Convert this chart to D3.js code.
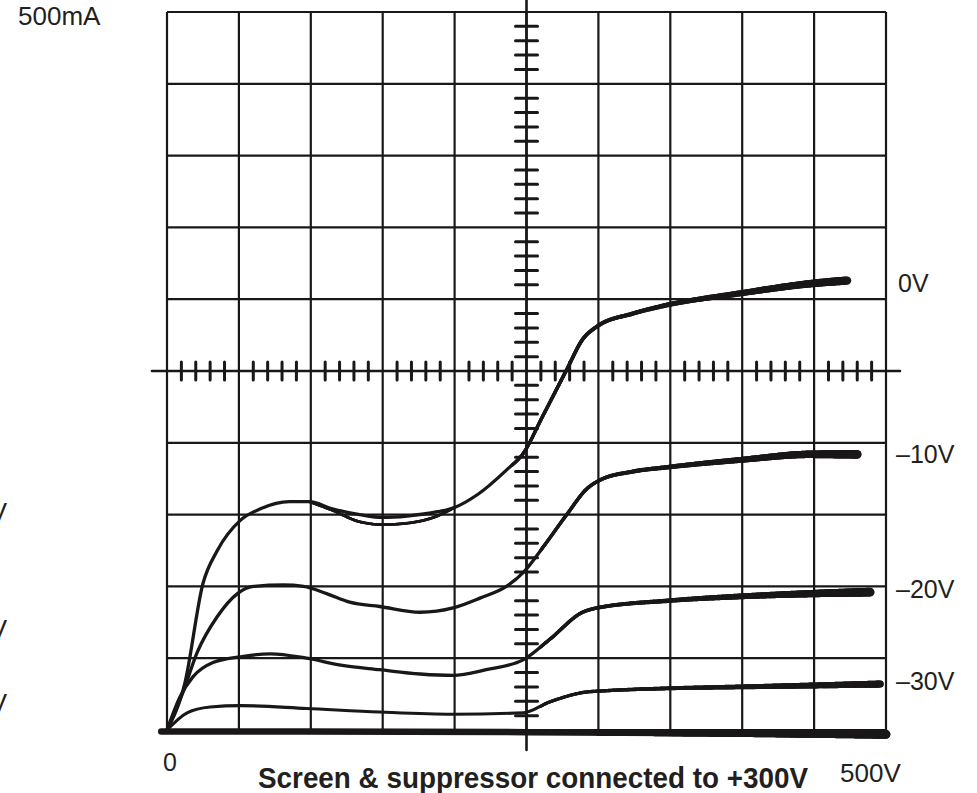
<!DOCTYPE html>
<html>
<head>
<meta charset="utf-8">
<script src="https://cdn.jsdelivr.net/npm/d3@7"></script>
<style>
  html, body { margin: 0; padding: 0; background: #fff; }
  svg { display: block; }
  text { font-family: 'Liberation Sans', Arial, sans-serif; fill: #231f20; }
</style>
</head>
<body>
<svg id="chart" width="977" height="793"></svg>
<script>
// plate current (mA) vs plate voltage (V)
const curve0V = [[0,0],[12.5,33],[25,102],[35,125],[51,146],[65,154],[85,159],[99,159],[115,154],[134,150],[150,148],[167,149],[188,152],[200,155],[216,164],[236,181],[248,193],[261,218],[278,251],[289,272],[299,281],[324,290],[348,296],[398,304],[449,311],[473,313]];
const curve0Vretrace = [[99,159],[115,153],[134,145],[150,143],[167,144],[188,149],[200,155]];
const curveM10 = [[0,0],[11,26],[21,54],[35,79],[49,95],[60,100],[81,101],[95,100],[111,95],[127,89],[148,86],[176,82],[199,85],[218,92],[236,100],[248,110],[262,128],[278,150],[292,168],[301,174],[324,180],[348,183],[398,188],[449,192],[480,192]];
const curveM20 = [[0,0],[9,23],[18,37],[32,47],[51,51],[72,53],[97,50],[122,45],[148,42],[176,39],[199,38],[222,42],[248,49],[266,63],[289,82],[299,85],[348,90],[398,93],[449,95],[489,96]];
const curveM30 = [[0,0],[14,12],[30,16],[51,17],[97,15],[148,12.5],[199,11],[248,12],[266,19.5],[292,26.5],[299,27],[348,29],[398,30],[449,31],[496,32]];
const curveCutoff = [[-4,-1],[250,-1.5],[500,-3]];

const curveLabels = ['0V', '–10V', '–20V', '–30V'];
const labelCurrents = [311, 192, 98, 34];
const leftLabels = ['V', 'V', 'V'];
const leftLabelCurrents = [152, 70, 19];

const svg = d3.select('#chart');
const x = d3.scaleLinear().domain([0, 500]).range([167, 886]);
const y = d3.scaleLinear().domain([0, 500]).range([730, 12]);
const ink = '#1a1718';

// grid
const gridG = svg.append('g').attr('stroke', ink).attr('stroke-width', 2.2);
gridG.selectAll('.vx').data(x.ticks(10)).join('line')
  .attr('x1', d => x(d)).attr('x2', d => x(d))
  .attr('y1', y(0)).attr('y2', y(500));
gridG.selectAll('.hy').data(y.ticks(10)).join('line')
  .attr('y1', d => y(d)).attr('y2', d => y(d))
  .attr('x1', x(0)).attr('x2', x(500));

// centre cross axes with minor ticks
const axisG = svg.append('g').attr('stroke', ink).attr('stroke-linecap', 'round');
axisG.append('line').attr('stroke-width', 2.6)
  .attr('x1', x(250)).attr('x2', x(250)).attr('y1', 0).attr('y2', 750);
axisG.append('line').attr('stroke-width', 2.6)
  .attr('x1', 152).attr('x2', 900).attr('y1', y(250)).attr('y2', y(250));
const minor = d3.range(0, 501, 10).filter(v => v % 50 !== 0);
axisG.selectAll('.ty').data(minor).join('line').attr('stroke-width', 3)
  .attr('x1', x(250) - 11).attr('x2', x(250) + 11)
  .attr('y1', d => y(d)).attr('y2', d => y(d));
axisG.selectAll('.tx').data(minor).join('line').attr('stroke-width', 3)
  .attr('x1', d => x(d)).attr('x2', d => x(d))
  .attr('y1', y(250) - 9).attr('y2', y(250) + 9);

// curves: thin on the left, heavier towards the right end like the scope trace
const line = d3.line().x(d => x(d[0])).y(d => y(d[1])).curve(d3.curveMonotoneX);
const curvesG = svg.append('g').attr('fill', 'none').attr('stroke', ink).attr('stroke-linecap', 'round');

function drawTrace(data, base, tail, tailFrom) {
  const tmp = curvesG.append('path').attr('d', line(data)).attr('stroke', 'none');
  const node = tmp.node();
  const len = node.getTotalLength();
  const xEnd = x(data[data.length - 1][0]);
  const pts = d3.range(0, len, 1.5).concat([len]).map(l => node.getPointAtLength(l));
  tmp.remove();
  // base stroke as one path, heavier tail drawn piecewise on top
  curvesG.append('path').attr('d', line(data)).attr('stroke-width', base).attr('stroke-linejoin', 'round');
  for (let i = 1; i < pts.length; i++) {
    const p = pts[i - 1], q = pts[i];
    const t = Math.max(0, (q.x - tailFrom) / (xEnd - tailFrom));
    if (t <= 0) continue;
    curvesG.append('line')
      .attr('x1', p.x).attr('y1', p.y).attr('x2', q.x).attr('y2', q.y)
      .attr('stroke-width', base + tail * Math.pow(t, 1.6));
  }
}

drawTrace(curve0V, 3.3, 5, x(240));
drawTrace(curve0Vretrace, 2.7, 0, x(500));
drawTrace(curveM10, 3.3, 5.5, x(260));
drawTrace(curveM20, 3.3, 5.5, x(260));
drawTrace(curveM30, 3.1, 4, x(260));
drawTrace(curveCutoff, 6.5, 2.5, x(300));

// labels
svg.append('text').attr('x', 18).attr('y', 25).style('font-size', '26px').text('500mA');
svg.selectAll('.rl').data(curveLabels).join('text')
  .attr('x', (d, i) => i === 0 ? 898 : 896)
  .attr('y', (d, i) => y(labelCurrents[i]) + 9)
  .style('font-size', '25px')
  .text(d => d);
svg.selectAll('.ll').data(leftLabels).join('text')
  .attr('x', 7).attr('text-anchor', 'end')
  .attr('y', (d, i) => y(leftLabelCurrents[i]) + 9)
  .style('font-size', '26px')
  .text(d => d);
svg.append('text').attr('x', 163).attr('y', 771).style('font-size', '25px').text('0');
svg.append('text').attr('x', 840).attr('y', 782).style('font-size', '26px').text('500V');
svg.append('text').attr('x', 258).attr('y', 788)
  .attr('textLength', 550).attr('lengthAdjust', 'spacingAndGlyphs')
  .style('font-family', "'Liberation Sans Narrow', 'Arial Narrow', 'Liberation Sans', sans-serif")
  .style('font-weight', 'bold').style('font-size', '30px')
  .text('Screen & suppressor connected to +300V');
</script>
</body>
</html>
